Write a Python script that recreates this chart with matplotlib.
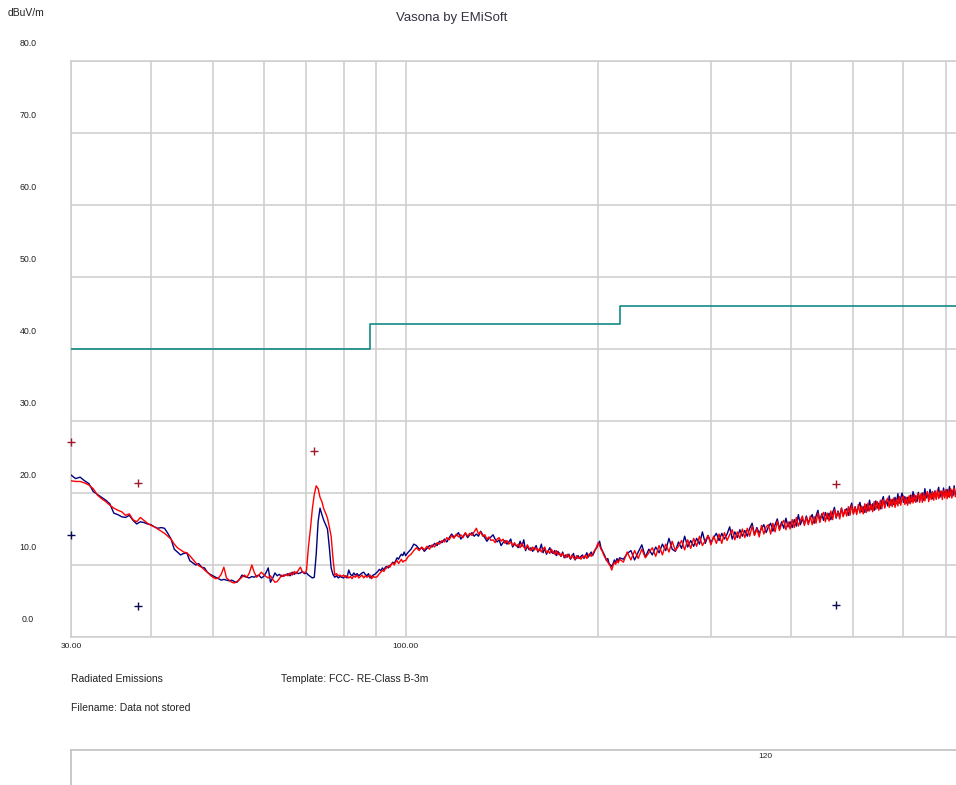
import numpy as np
import matplotlib
matplotlib.use("Agg")
import matplotlib.pyplot as plt
from matplotlib import transforms
from matplotlib.lines import Line2D

plt.rcParams['font.family'] = ['Liberation Sans', 'DejaVu Sans']

# ---------------- data ----------------
# sweep grid (MHz)
freq_low = np.arange(30.0, 100.0, 0.5)
freq_mid = np.arange(100.0, 217.0, 1.0)
freq_high = np.arange(219.0, 724.0, 3.0)

red_low = [
    21.7, 21.6, 21.6, 21.4, 21.1, 20.6, 19.7, 19.2, 18.8, 18.3,
    17.9, 17.6, 17.4, 16.9, 17.1, 16.3, 16.0, 16.6, 16.2, 15.8,
    15.5, 15.3, 15.0, 14.7, 14.4, 14.0, 13.6, 12.9, 12.4, 12.1,
    11.8, 11.7, 11.3, 10.8, 10.3, 9.9, 9.7, 9.3, 9.0, 8.6,
    8.3, 8.1, 8.2, 8.7, 9.7, 8.2, 7.9, 7.6, 7.5, 7.7,
    8.0, 8.3, 8.6, 8.3, 8.9, 10.0, 9.0, 8.3, 8.6, 9.0,
    8.7, 8.4, 8.2, 8.5, 8.0, 7.6, 7.7, 8.1, 8.6, 8.4,
    8.7, 8.5, 8.9, 8.6, 9.1, 8.8, 9.3, 9.7, 9.0, 8.9,
    9.2, 12.5, 15.0, 17.8, 19.8, 21.0, 20.6, 19.4, 18.8, 17.8,
    17.2, 16.5, 15.3, 14.0, 11.0, 8.6, 8.8, 8.5, 8.6, 8.4,
    8.6, 8.3, 8.5, 8.2, 8.4, 8.1, 8.5, 8.3, 8.6, 8.2,
    8.4, 8.6, 8.2, 8.5, 8.3, 8.4, 8.6, 8.1, 8.4, 8.3,
    8.3, 8.5, 8.8, 9.0, 9.3, 9.1, 9.5, 9.6, 9.9, 9.7,
    10.1, 10.3, 10.0, 10.4, 10.6, 10.2, 10.5, 10.8, 10.4, 10.6,
]
blue_low = [
    22.5, 22.0, 22.2, 21.7, 21.3, 20.2, 19.8, 19.4, 19.0, 18.5,
    17.2, 17.0, 16.7, 16.6, 16.9, 16.2, 15.7, 16.0, 15.9, 15.7,
    15.6, 15.3, 15.1, 15.2, 15.1, 14.4, 13.6, 12.2, 11.8, 11.4,
    11.6, 11.7, 10.6, 10.3, 10.0, 10.2, 9.7, 9.6, 9.0, 8.7,
    8.5, 8.3, 8.1, 7.9, 8.0, 7.9, 7.8, 7.9, 7.7, 7.6,
    8.0, 8.6, 8.4, 8.3, 8.2, 8.4, 8.3, 8.5, 8.6, 8.2,
    8.4, 8.9, 9.6, 7.6, 8.2, 8.9, 8.5, 8.7, 8.4, 8.6,
    8.6, 8.8, 8.5, 9.0, 8.7, 9.0, 8.8, 8.9, 9.1, 8.8,
    8.9, 8.6, 8.4, 8.2, 8.3, 11.5, 16.0, 17.9, 17.0, 16.2,
    15.6, 15.0, 12.5, 9.6, 8.7, 8.3, 8.5, 8.2, 8.4, 8.3,
    8.2, 8.5, 8.2, 9.3, 8.7, 8.5, 8.9, 8.6, 8.8, 8.5,
    8.7, 8.9, 9.0, 8.7, 8.5, 8.8, 8.2, 8.4, 8.6, 8.7,
    8.9, 9.1, 9.4, 9.2, 9.6, 9.3, 9.7, 9.8, 9.6, 9.9,
    10.1, 10.4, 10.2, 10.6, 11.0, 10.8, 11.2, 11.5, 11.3, 11.8,
]

red_mid = [
    10.6, 11.2, 11.5, 12.0, 12.4, 12.0, 12.5, 12.1, 12.6, 12.2,
    12.8, 12.5, 13.1, 12.9, 13.4, 13.2, 13.8, 13.5, 14.1, 13.7,
    14.3, 13.9, 14.2, 13.8, 14.5, 14.0, 14.4, 14.1, 14.6, 15.1,
    14.3, 14.6, 14.0, 14.2, 13.6, 13.9, 13.4, 13.5, 13.1, 13.6,
    13.8, 13.3, 13.6, 13.0, 13.4, 12.9, 13.2, 12.7, 13.1, 12.6,
    12.9, 12.4, 13.0, 12.5, 12.2, 12.8, 12.3, 12.0, 12.5, 12.1,
    12.4, 11.9, 12.3, 11.8, 12.2, 12.5, 11.7, 12.0, 11.6, 12.2,
    11.8, 11.5, 12.0, 11.4, 11.7, 11.2, 11.6, 11.3, 11.0, 11.5,
    11.2, 10.9, 11.4, 11.0, 10.8, 11.3, 10.9, 11.1, 10.8, 11.2,
    11.0, 11.4, 10.9, 11.3, 11.6, 11.2, 11.5, 11.9, 12.1, 12.6,
    13.1, 12.7, 12.2, 11.9, 11.4, 11.0, 10.8, 10.4, 10.1, 9.8,
    9.3, 9.9, 10.4, 10.1, 10.6, 10.3, 10.8,
]
blue_mid = [
    11.3, 11.8, 12.2, 12.9, 12.7, 12.2, 12.4, 11.9, 12.3, 12.7,
    12.5, 13.0, 12.7, 13.3, 13.1, 13.6, 13.2, 13.8, 14.3, 13.9,
    14.1, 14.5, 13.6, 14.0, 14.4, 13.8, 14.2, 14.5, 14.0, 14.3,
    14.0, 14.7, 14.2, 13.8, 13.3, 13.7, 13.9, 14.2, 13.6, 13.2,
    13.5, 12.7, 13.1, 13.4, 12.9, 13.2, 13.6, 12.5, 12.9, 12.7,
    12.4, 13.3, 12.6, 13.5, 12.0, 12.6, 12.1, 12.4, 11.9, 12.3,
    12.7, 11.8, 12.1, 12.9, 11.7, 12.3, 11.5, 11.9, 12.4, 11.8,
    11.6, 12.0, 11.3, 11.9, 11.5, 11.2, 11.8, 11.0, 11.4, 11.1,
    11.5, 10.8, 11.2, 11.6, 10.7, 11.0, 11.3, 10.9, 11.2, 11.4,
    10.9, 11.2, 11.7, 11.1, 11.4, 11.8, 11.3, 11.7, 12.2, 12.4,
    12.9, 13.3, 12.4, 12.0, 11.6, 11.2, 10.6, 10.9, 10.2, 10.0,
    9.8, 10.2, 10.7, 10.3, 10.9, 10.5, 11.0,
]

red_high = [
    10.4, 11.8, 10.7, 12.0, 10.9, 12.2, 11.0, 11.7, 12.4, 11.2,
    12.7, 11.4, 12.9, 11.8, 13.3, 12.0, 12.6, 13.4, 12.1, 13.5,
    12.3, 13.7, 12.6, 14.0, 12.7, 13.4, 14.1, 12.8, 14.0, 13.0,
    14.3, 13.0, 14.5, 13.4, 14.2, 14.9, 13.5, 14.6, 13.7, 15.0,
    13.8, 15.1, 14.0, 15.4, 14.1, 15.0, 13.9, 15.5, 14.3, 15.3,
    15.6, 14.3, 15.8, 14.6, 16.1, 14.8, 15.7, 16.2, 14.9, 16.0,
    15.0, 16.3, 15.2, 16.6, 15.4, 16.2, 16.8, 15.5, 16.6, 15.6,
    16.8, 15.6, 16.7, 15.8, 17.2, 15.9, 16.9, 17.3, 16.0, 17.2,
    16.1, 17.5, 16.3, 17.7, 16.6, 17.4, 16.4, 17.9, 16.7, 17.7,
    16.8, 18.1, 16.9, 18.3, 17.1, 18.0, 17.0, 18.4, 17.2, 18.2,
    17.1, 18.5, 17.3, 18.6, 17.5, 18.4, 17.4, 18.8, 17.7, 18.8,
    17.6, 19.0, 17.8, 19.1, 17.9, 18.9, 19.3, 18.0, 19.1, 18.1,
    19.3, 18.0, 19.2, 18.2, 19.5, 18.3, 19.3, 19.6, 18.4, 19.4,
    18.3, 19.6, 18.5, 19.7, 18.6, 19.8, 18.7, 19.6, 19.9, 18.7,
    19.9, 18.7, 20.0, 18.9, 19.8, 20.2, 18.8, 20.0, 19.1, 20.2,
    19.0, 20.2, 19.1, 20.4, 19.2, 20.1, 20.3, 19.1, 20.3, 19.3,
    20.5, 19.2, 20.4, 19.4, 20.6, 19.3, 20.3, 20.7, 19.5,
]
blue_high = [
    10.8, 11.6, 12.0, 10.7, 11.8, 12.8, 11.1, 12.2, 11.4, 12.5,
    11.7, 12.9, 12.0, 13.7, 12.2, 11.9, 13.2, 12.3, 14.0, 12.5,
    13.4, 12.6, 13.7, 12.9, 14.6, 13.0, 14.1, 13.1, 13.8, 14.4,
    13.4, 14.4, 13.6, 14.3, 15.3, 13.6, 14.6, 13.8, 14.9, 14.0,
    14.8, 14.0, 15.1, 15.8, 14.2, 15.2, 14.4, 15.1, 15.6, 14.5,
    15.3, 15.8, 14.7, 15.6, 16.4, 15.0, 16.0, 15.1, 16.5, 15.3,
    16.0, 15.2, 16.3, 15.4, 17.0, 15.6, 16.4, 15.7, 16.8, 15.8,
    16.5, 17.0, 15.8, 16.8, 17.6, 16.1, 17.1, 16.2, 17.3, 16.4,
    17.2, 16.3, 17.3, 18.0, 16.5, 17.5, 16.7, 17.9, 16.8, 17.6,
    17.8, 16.9, 17.9, 18.6, 17.1, 18.1, 17.3, 18.0, 18.7, 17.4,
    18.1, 17.3, 18.4, 17.5, 19.0, 17.7, 18.5, 17.6, 18.9, 17.9,
    18.6, 17.8, 18.9, 19.5, 18.1, 19.0, 18.2, 19.6, 18.3, 19.1,
    18.4, 19.4, 18.5, 19.9, 18.6, 19.3, 20.0, 18.7, 19.5, 18.6,
    19.4, 18.6, 19.7, 18.8, 20.2, 18.9, 19.6, 18.8, 20.1, 19.0,
    19.6, 20.0, 19.0, 20.6, 19.3, 19.9, 19.1, 20.5, 19.9, 19.2,
    19.9, 20.3, 19.3, 20.1, 20.8, 19.4, 20.2, 19.5, 20.7, 19.6,
    20.1, 20.5, 19.5, 20.9, 19.7, 20.4, 19.6, 21.0, 19.8,
]

# FCC Class B 3 m limit
limit_freq = [30, 88, 216, 960]
limit_level = [40.0, 43.5, 46.0, 46.0]

# peak markers
red_mark_freq = [30.0, 38.2, 71.9, 470.0]
red_mark_level = [27.1, 21.4, 25.8, 21.3]
blue_mark_freq = [30.0, 38.2, 470.0]
blue_mark_level = [14.2, 4.3, 4.4]

y_ticks = [0, 10, 20, 30, 40, 50, 60, 70, 80]
x_grid = [30, 40, 50, 60, 70, 80, 90, 100, 200, 300, 400, 500, 600, 700]
x_labels = {30: "30.00", 100: "100.00"}

# ---------------- figure ----------------
W, H = 956, 785
fig = plt.figure(figsize=(W / 100, H / 100), dpi=100)
ax = fig.add_axes([71 / W, (H - 637) / H, (W - 71) / W, 576 / H])
ax.set_xscale('log')
ax.set_xlim(30, 724.8)
ax.set_ylim(0, 80)

grid_c = '#cfcfcf'
ax.set_xticks(x_grid)
ax.set_xticks([], minor=True)
ax.set_yticks(y_ticks)
ax.tick_params(which='both', length=0, labelbottom=False, labelleft=False)
ax.grid(True, color=grid_c, linewidth=1.2)
ax.set_axisbelow(True)
for s in ['left', 'bottom', 'top']:
    ax.spines[s].set_color(grid_c)
    ax.spines[s].set_linewidth(1.2)
ax.spines['right'].set_visible(False)

f_all = np.concatenate([freq_low, freq_mid, freq_high])
blue_all = np.concatenate([blue_low, blue_mid, blue_high])
red_all = np.concatenate([red_low, red_mid, red_high])

ax.plot(limit_freq, limit_level, drawstyle='steps-post', color='#138a86', lw=1.2, zorder=3)
ax.plot(f_all, blue_all, color='#000080', lw=1.0, zorder=4)
ax.plot(f_all, red_all, color='#ff0000', lw=1.0, zorder=5)

ax.plot(red_mark_freq, red_mark_level, ls='none', marker='+', ms=6, mew=1.0,
        color='#9b1c2c', clip_on=False, zorder=6)
ax.plot(blue_mark_freq, blue_mark_level, ls='none', marker='+', ms=6, mew=1.0,
        color='#0a0a50', clip_on=False, zorder=6)

# y labels drawn above their grid lines
ytr = transforms.blended_transform_factory(fig.transFigure, ax.transData) + \
    transforms.ScaledTranslation(0, 18 / 100, fig.dpi_scale_trans)
for v in y_ticks:
    ax.text(28 / W, v, f"{v:.1f}", transform=ytr, ha='center', va='center',
            fontsize=6.3, color='#222222', clip_on=False)

xtr = transforms.blended_transform_factory(ax.transData, ax.transAxes) + \
    transforms.ScaledTranslation(0, -9 / 100, fig.dpi_scale_trans)
for v, s in x_labels.items():
    ax.text(v, 0, s, transform=xtr, ha='center', va='center', fontsize=6.1,
            color='#222222', clip_on=False)

fig.text(26 / W, 1 - 13 / H, "dBuV/m", ha='center', va='center', fontsize=7.5, color='#222222')
fig.text(452 / W, 1 - 18 / H, "Vasona by EMiSoft", ha='center', va='center', fontsize=9.5, color='#333344')
fig.text(71 / W, 1 - 679 / H, "Radiated Emissions", ha='left', va='center', fontsize=7.5, color='#222222')
fig.text(281 / W, 1 - 679 / H, "Template: FCC- RE-Class B-3m", ha='left', va='center', fontsize=7.5, color='#222222')
fig.text(71 / W, 1 - 708 / H, "Filename: Data not stored", ha='left', va='center', fontsize=7.5, color='#222222')

# lower empty box
fig.add_artist(Line2D([71 / W, 1.0], [1 - 750 / H, 1 - 750 / H], transform=fig.transFigure,
                      color='#c0c0c0', lw=1.2))
fig.add_artist(Line2D([71 / W, 71 / W], [1 - 750 / H, 0.0], transform=fig.transFigure,
                      color='#c0c0c0', lw=1.2))
fig.text(765 / W, 1 - 757 / H, "120", ha='center', va='center', fontsize=6, color='#222222')

fig.savefig("out.png", dpi=100, facecolor='white')
